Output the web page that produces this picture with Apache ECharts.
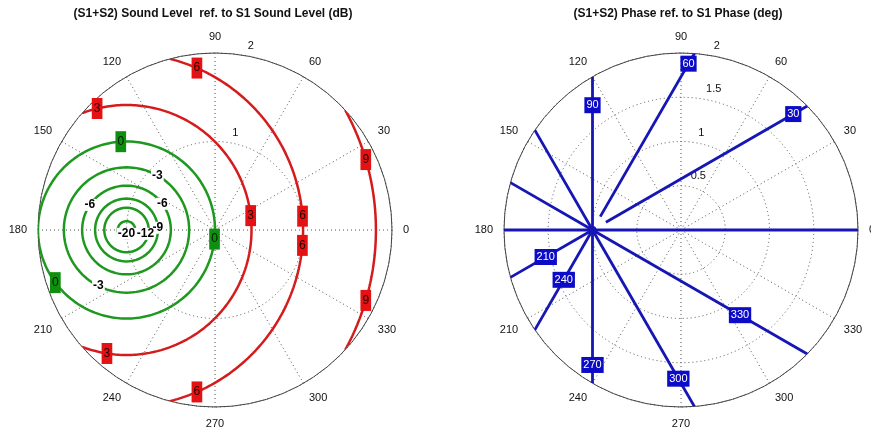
<!DOCTYPE html>
<html>
<head>
<meta charset="utf-8">
<script src="https://cdn.jsdelivr.net/npm/echarts@6/dist/echarts.min.js"></script>
<style>
  html, body { margin: 0; padding: 0; background: #fff; }
  #chart { width: 871px; height: 432px; }
</style>
</head>
<body>
<div id="chart"></div>
<script>
// Two sources S1 (amplitude 1) and S2 (amplitude ratio r, phase theta), r from 0 to 2.
// Contour levels of the summed signal
const levelsCut = [-20, -12, -9, -6, -3, 0];       // dB, level drops (green)
const levelsBoost = [3, 6, 9];                     // dB, level rises (red)
const phaseLevels = [0, 30, 60, 90, 120, 150, 180, 210, 240, 270, 300, 330]; // deg

// Radius tick labels on each plot
const levelTicks = [1, 2];
const phaseTicks = [0.5, 1, 1.5, 2];
const angleTicks = [0, 30, 60, 90, 120, 150, 180, 210, 240, 270, 300, 330];

// Inline contour labels: [level, position angle around the contour centre (deg)]
const levelLabelSpots = [
  [6, 66.5], [6, -66.5], [6, 4.5], [6, -5],
  [3, 103.6], [3, -99], [3, 6.6],
  [9, 16.4], [9, -16.4],
  [0, 93.7], [0, -5.9], [0, -143.5],
  [-3, 60.5], [-3, -116.6], [-6, 145.6], [-6, 36.2],
  [-9, 4], [-12, -10], [-20, -90]
];
// Phase labels: [phase, distance along the ray from the cancellation point]
const phaseLabelSpots = [
  [30, 2.62], [60, 2.17], [90, 1.41], [210, 0.61],
  [240, 0.65], [270, 1.525], [300, 1.94], [330, 1.925]
];
// Rays that the contouring grid leaves short near the singular point
const rayStartGap = { 30: 0.175, 60: 0.175 };

const RMAX = 2;
const GREEN = '#1f981f', RED = '#d41c1c', BLUE = '#1616b4';
const FONT = 'Liberation Sans, Arial, sans-serif';
const HIDDEN = { color: 'rgba(0,0,0,0)', opacity: 1 };

function toPolar(u, v) {
  return [Math.hypot(u, v), (Math.atan2(v, u) * 180 / Math.PI + 360) % 360];
}
const rad = d => d * Math.PI / 180;

// |1 + r e^{i theta}| = k is a circle of radius k about the point (-1, 0)
function levelPoint(db, beta) {
  const k = Math.pow(10, db / 20);
  return toPolar(-1 + k * Math.cos(rad(beta)), k * Math.sin(rad(beta)));
}
function levelContour(db) {
  const k = Math.pow(10, db / 20);
  const c = (k * k - 3) / (2 * k);          // where the circle meets r = RMAX
  const bmax = c <= -1 ? 180 : Math.acos(Math.max(-1, Math.min(1, c))) * 180 / Math.PI;
  const pts = [];
  const n = 240;
  for (let i = 0; i <= n; i++) {
    const b = -bmax + 2 * bmax * i / n;
    pts.push(levelPoint(db, b));
  }
  return pts;
}
// arg(1 + r e^{i theta}) = phi is a ray leaving (-1, 0) at angle phi
function phasePoint(phi, t) {
  return toPolar(-1 + t * Math.cos(rad(phi)), t * Math.sin(rad(phi)));
}
function phaseRay(phi) {
  const c = Math.cos(rad(phi));
  const tEnd = c + Math.sqrt(c * c + RMAX * RMAX - 1);
  return [phasePoint(phi, rayStartGap[phi] || 0), phasePoint(phi, tEnd)];
}

const series = [];
levelsCut.forEach(db => series.push({
  type: 'line', coordinateSystem: 'polar', polarIndex: 0, symbol: 'none',
  data: levelContour(db), lineStyle: { color: GREEN, width: 2.5 }, silent: true, z: 3
}));
levelsBoost.forEach(db => series.push({
  type: 'line', coordinateSystem: 'polar', polarIndex: 0, symbol: 'none',
  data: levelContour(db), lineStyle: { color: RED, width: 2.5 }, silent: true, z: 3
}));
phaseLevels.forEach(phi => series.push({
  type: 'line', coordinateSystem: 'polar', polarIndex: 1, symbol: 'none',
  data: phaseRay(phi), lineStyle: { color: BLUE, width: 2.8 }, silent: true, z: 3
}));
// cancellation point where all phase rays meet
series.push({
  type: 'scatter', coordinateSystem: 'polar', polarIndex: 1, symbolSize: 8,
  data: [[1, 180]], itemStyle: { color: BLUE, opacity: 1 }, silent: true, z: 4
});

function labelStyle(db) {
  if (db > 0) return { backgroundColor: '#e41212', color: '#2a0000', padding: [5, 2, 4, 2], fontSize: 12 };
  if (db === 0) return { backgroundColor: '#0f8f0f', color: '#001a00', padding: [5, 2, 4, 2], fontSize: 12 };
  return { backgroundColor: '#fff', color: '#000', padding: [0, 1], fontSize: 12, fontWeight: 'bold' };
}
const labelShift = { '-20': [0, -5], '-12': [-3, 0] };
series.push({
  type: 'scatter', coordinateSystem: 'polar', polarIndex: 0, symbolSize: 1, clip: false,
  itemStyle: HIDDEN, silent: true, z: 6,
  data: levelLabelSpots.map(([db, b]) => ({
    value: levelPoint(db, b),
    label: Object.assign({
      show: true, position: 'inside', formatter: String(db), fontFamily: FONT,
      offset: labelShift[String(db)] || [0, 0]
    }, labelStyle(db))
  }))
});
series.push({
  type: 'scatter', coordinateSystem: 'polar', polarIndex: 1, symbolSize: 1, clip: false,
  itemStyle: HIDDEN, silent: true, z: 6,
  data: phaseLabelSpots.map(([phi, t]) => ({
    value: phasePoint(phi, t),
    label: {
      show: true, position: 'inside', formatter: String(phi), fontFamily: FONT,
      fontSize: 11, color: '#fff', backgroundColor: '#0c0cc8', padding: [3, 2, 2, 2]
    }
  }))
});
// radius tick labels along the 80 degree direction
function tickSeries(idx, ticks) {
  return {
    type: 'scatter', coordinateSystem: 'polar', polarIndex: idx, symbolSize: 1, clip: false,
    itemStyle: HIDDEN, silent: true, z: 2,
    data: ticks.map(r => [r, 80]),
    label: {
      show: true, position: 'inside', align: 'left', verticalAlign: 'middle',
      offset: [2, -10], formatter: p => String(p.value[0]),
      fontFamily: FONT, fontSize: 11, color: '#111'
    }
  };
}
series.push(tickSeries(0, levelTicks));
series.push(tickSeries(1, phaseTicks));

function angleAxis(idx) {
  return {
    polarIndex: idx, type: 'value', min: 0, max: 360, interval: 30,
    startAngle: 0, clockwise: false,
    axisLine: { lineStyle: { color: '#444', width: 1 } },
    axisTick: { show: false },
    axisLabel: {
      margin: 11, color: '#111', fontSize: 11, fontFamily: FONT,
      formatter: v => (angleTicks.indexOf(v) >= 0 ? String(v) : '')
    },
    splitLine: { lineStyle: { color: '#555', type: [1, 3], width: 1 } }
  };
}
function radiusAxis(idx, step) {
  return {
    polarIndex: idx, type: 'value', min: 0, max: RMAX, interval: step,
    axisLine: { show: false }, axisTick: { show: false }, axisLabel: { show: false },
    splitLine: { lineStyle: { color: '#555', type: [1, 3], width: 1 } }
  };
}

const chart = echarts.init(document.getElementById('chart'), null, { renderer: 'canvas' });
chart.setOption({
  animation: false,
  backgroundColor: '#fff',
  title: [
    { text: '(S1+S2) Sound Level  ref. to S1 Sound Level (dB)', left: 213, top: 8, padding: 0, textAlign: 'center',
      textStyle: { fontSize: 12, fontWeight: 'bold', color: '#111', fontFamily: FONT } },
    { text: '(S1+S2) Phase ref. to S1 Phase (deg)', left: 678, top: 8, padding: 0, textAlign: 'center',
      textStyle: { fontSize: 12, fontWeight: 'bold', color: '#111', fontFamily: FONT } }
  ],
  polar: [
    { center: [215, 230], radius: 177 },
    { center: [681, 230], radius: 177 }
  ],
  angleAxis: [angleAxis(0), angleAxis(1)],
  radiusAxis: [radiusAxis(0, 1), radiusAxis(1, 0.5)],
  series: series
});
</script>
</body>
</html>
